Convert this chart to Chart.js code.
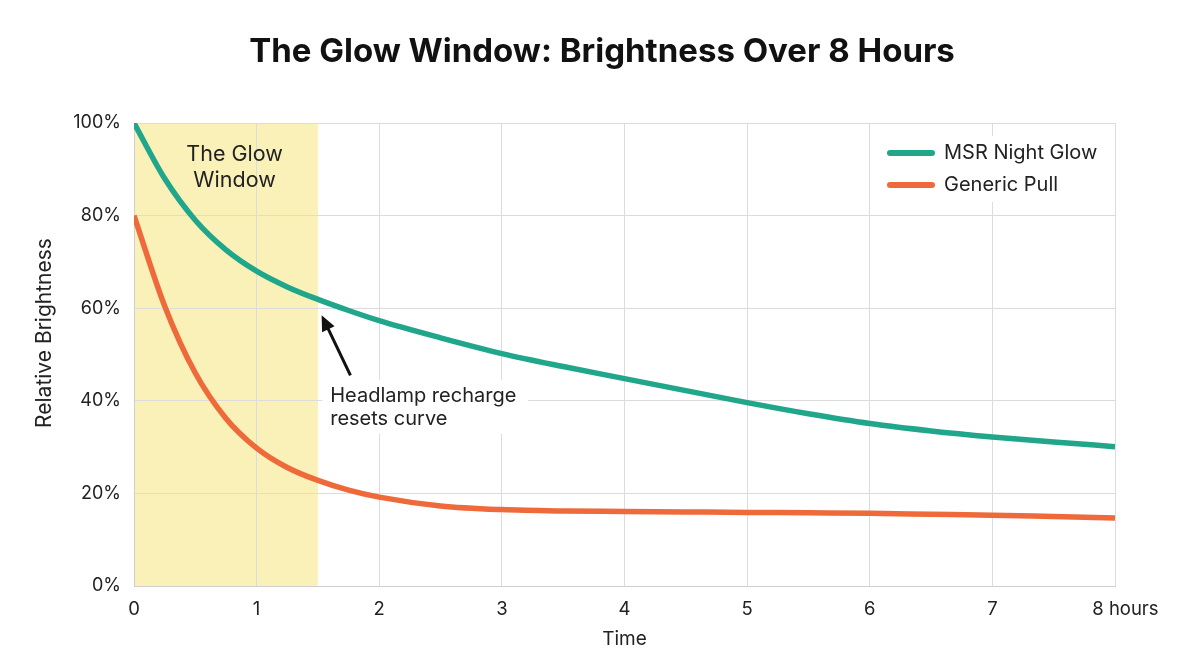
<!DOCTYPE html>
<html>
<head>
<meta charset="utf-8">
<title>The Glow Window</title>
<script src="https://cdn.jsdelivr.net/npm/chart.js@4.4.1/dist/chart.umd.min.js"></script>
<style>
    html, body { margin: 0; padding: 0; background: #fff; }
    #wrap { width: 1204px; height: 672px; }
</style>
</head>
<body>
<div id="wrap"><canvas id="glowChart"></canvas></div>
<script>
// Data
const hours = [0, 0.25, 0.5, 0.75, 1, 1.25, 1.5, 1.75, 2, 2.5, 3, 3.5, 4, 4.5, 5, 5.5, 6, 6.5, 7, 7.5, 8];
const msrNightGlow = [100, 88, 79, 72.6, 68, 64.6, 61.9, 59.5, 57.3, 53.6, 50.2, 47.4, 44.8, 42.2, 39.6, 37.2, 35.1, 33.5, 32.2, 31.1, 30.1];
const genericPull = [80, 60.5, 46, 36.2, 29.8, 25.6, 22.8, 20.7, 19.2, 17.3, 16.5, 16.2, 16.1, 16.0, 15.9, 15.8, 15.7, 15.5, 15.3, 15.0, 14.7];
const seriesNames = ['MSR Night Glow', 'Generic Pull'];
const glowWindow = [0, 1.5];
const yTicks = [0, 20, 40, 60, 80, 100];

const FONT = 'Inter, "Noto Sans", sans-serif';
const GREEN = '#20a68b';
const ORANGE = '#ee6a3a';

function toPoints(values) {
    return hours.map((h, i) => ({ x: h, y: values[i] }));
}

// Yellow band, title, notes and legend
const decorPlugin = {
    id: 'decor',
    beforeDraw(chart) {
        const { ctx, chartArea, scales } = chart;
        const x0 = scales.x.getPixelForValue(glowWindow[0]);
        const x1 = scales.x.getPixelForValue(glowWindow[1]);
        ctx.save();
        ctx.fillStyle = '#faf1b8';
        ctx.fillRect(x0, chartArea.top, x1 - x0, chartArea.bottom - chartArea.top);
        ctx.restore();
    },
    afterDraw(chart) {
        const { ctx, chartArea, scales } = chart;
        const x = scales.x, y = scales.y;
        ctx.save();

        // Title
        ctx.fillStyle = '#111';
        ctx.font = 'bold 33px ' + FONT;
        ctx.textAlign = 'center';
        ctx.textBaseline = 'middle';
        ctx.fillText('The Glow Window: Brightness Over 8 Hours', chart.width / 2, 52);

        // Y axis title
        ctx.save();
        ctx.translate(45, 333);
        ctx.rotate(-Math.PI / 2);
        ctx.font = '21px ' + FONT;
        ctx.fillStyle = '#222';
        ctx.fillText('Relative Brightness', 0, 0);
        ctx.restore();

        // Band label
        ctx.font = '21.5px ' + FONT;
        ctx.fillStyle = '#222';
        ctx.fillText('The Glow', x.getPixelForValue(0.82), 155);
        ctx.fillText('Window', x.getPixelForValue(0.82), 181);

        // Annotation box + arrow
        const tx = x.getPixelForValue(1.6);
        const ty = y.getPixelForValue(39.8);
        ctx.fillStyle = '#fff';
        ctx.fillRect(tx - 8, ty - 22, 206, 54);
        ctx.fillStyle = '#222';
        ctx.textAlign = 'left';
        ctx.textBaseline = 'alphabetic';
        ctx.font = '20px ' + FONT;
        ctx.fillText('Headlamp recharge', tx, ty);
        ctx.fillText('resets curve', tx, ty + 23.5);

        const hx = x.getPixelForValue(1.53), hy = y.getPixelForValue(58.5);
        const bx = x.getPixelForValue(1.765), by = y.getPixelForValue(45.5);
        const ang = Math.atan2(hy - by, hx - bx);
        ctx.strokeStyle = '#111';
        ctx.lineWidth = 3;
        ctx.beginPath();
        ctx.moveTo(bx, by);
        ctx.lineTo(hx - 10 * Math.cos(ang), hy - 10 * Math.sin(ang));
        ctx.stroke();
        ctx.fillStyle = '#111';
        ctx.beginPath();
        ctx.moveTo(hx, hy);
        ctx.lineTo(hx - 17 * Math.cos(ang - 0.42), hy - 17 * Math.sin(ang - 0.42));
        ctx.lineTo(hx - 17 * Math.cos(ang + 0.42), hy - 17 * Math.sin(ang + 0.42));
        ctx.closePath();
        ctx.fill();

        // Legend
        const lx = chartArea.right - 240;
        const ly = chartArea.top + 13;
        ctx.fillStyle = '#fff';
        ctx.fillRect(lx, ly, 233, 66);
        chart.data.datasets.forEach((ds, i) => {
            const rowY = ly + 17 + i * 32;
            ctx.strokeStyle = ds.borderColor;
            ctx.lineWidth = 6;
            ctx.lineCap = 'round';
            ctx.beginPath();
            ctx.moveTo(lx + 15, rowY);
            ctx.lineTo(lx + 57, rowY);
            ctx.stroke();
            ctx.fillStyle = '#222';
            ctx.font = '20px ' + FONT;
            ctx.textBaseline = 'middle';
            ctx.fillText(ds.label, lx + 69, rowY);
        });
        ctx.restore();
    }
};

const ctx = document.getElementById('glowChart').getContext('2d');
const glowChart = new Chart(ctx, {
    type: 'line',
    data: {
        datasets: [
            {
                label: seriesNames[0],
                data: toPoints(msrNightGlow),
                borderColor: GREEN,
                borderWidth: 5.5,
                pointRadius: 0,
                cubicInterpolationMode: 'monotone',
                fill: false
            },
            {
                label: seriesNames[1],
                data: toPoints(genericPull),
                borderColor: ORANGE,
                borderWidth: 5.5,
                pointRadius: 0,
                cubicInterpolationMode: 'monotone',
                fill: false
            }
        ]
    },
    options: {
        responsive: true,
        maintainAspectRatio: false,
        animation: false,
        layout: {
            padding: { top: 123, right: 89, bottom: 0, left: 0 }
        },
        plugins: {
            legend: { display: false },
            tooltip: { enabled: false }
        },
        scales: {
            x: {
                type: 'linear',
                min: 0,
                max: 8,
                afterFit(scale) { scale.height = 86; },
                grid: { color: '#dcdcdc', drawTicks: false },
                border: { color: '#cfcfcf' },
                ticks: {
                    stepSize: 1,
                    padding: 12,
                    color: '#222',
                    font: { family: FONT, size: 18.5 },
                    callback: v => v === 8 ? '    8 hours' : v
                },
                title: {
                    display: true,
                    text: 'Time',
                    color: '#222',
                    font: { family: FONT, size: 19 },
                    padding: { bottom: 21 }
                }
            },
            y: {
                min: 0,
                max: 100,
                afterFit(scale) { scale.width = 134; },
                afterBuildTicks(scale) { scale.ticks = yTicks.map(v => ({ value: v })); },
                grid: { color: '#dcdcdc', drawTicks: false },
                border: { color: '#cfcfcf' },
                ticks: {
                    padding: 13,
                    color: '#222',
                    font: { family: FONT, size: 18 },
                    callback: v => v + '%'
                }
            }
        }
    },
    plugins: [decorPlugin]
});
</script>
</body>
</html>
